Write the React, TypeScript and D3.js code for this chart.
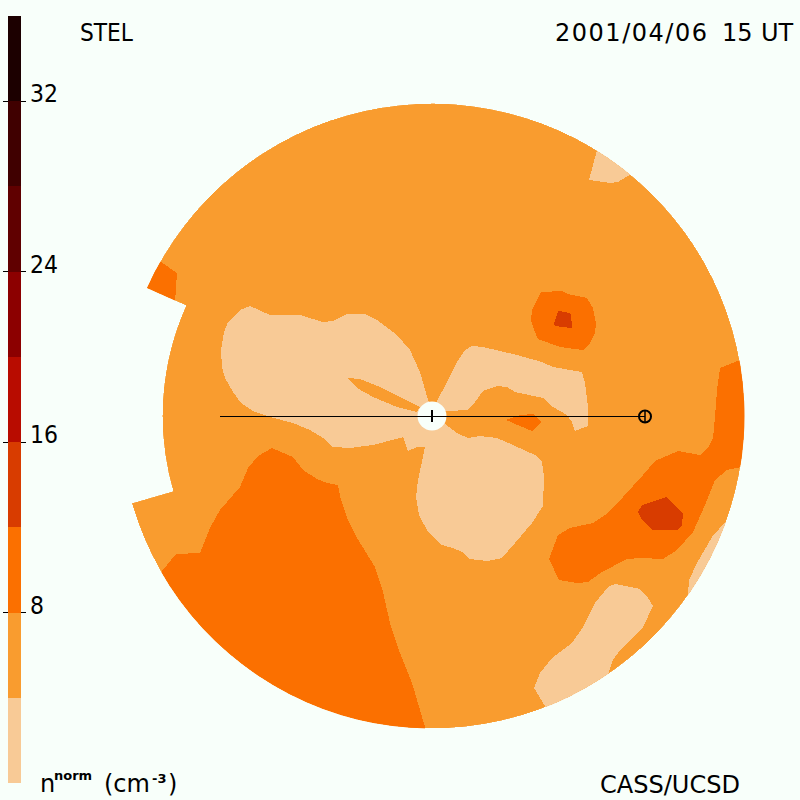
import React from 'react';
import * as d3 from 'd3';

type Pt = [number, number];

// sky plane coordinates in solar radii, sun at the origin, +x toward Earth, +y up
const earthDistance = 214;
const discRadius = 312.5;
const gapRadius = 269.5;
// position angles (deg, clockwise from top) of the sector with no data
const gapStart = 253.8;
const gapEnd = 294.2;
// the disc and sun sit one radius right of the contour origin in the picture
const discCentre = 1;

// density bands (cm^-3)
const bandEdges = [0, 4, 8, 12, 16, 20, 24, 28, 32, 36];
const bandColors = ['#f8ca96', '#f99c2f', '#fb7000', '#d83c00', '#b80c00', '#8c0000', '#600000', '#400000', '#1c0000'];
const barTicks = [8, 16, 24, 32];

// outlines of the density contours, each with a density that falls in its band
const leftLobe: Pt[] = [[-181,110],[-161,101],[-131,101],[-108,94],[-98,95],[-84,102],[-66,102],[-54,96],[-34,81],[-21,66],[-11,44],[-3,16],[14,-8],[26,-17],[37,-22],[49,-20],[66,-22],[82,-29],[104,-39],[111,-46],[113,-61],[112,-90],[101,-107],[84,-127],[71,-142],[56,-145],[39,-143],[31,-136],[22,-132],[11,-129],[-3,-116],[-12,-99],[-15,-81],[-13,-64],[-8,-41],[-6,-31],[-14,-31],[-23,-35],[-28,-21],[-31,-22],[-58,-29],[-81,-32],[-98,-31],[-108,-22],[-121,-14],[-138,-7],[-161,-1],[-178,5],[-190,13],[-198,24],[-206,38],[-209,49],[-210,66],[-207,84],[-203,94],[-191,106]];
const upperRightLobe: Pt[] = [[6,15],[16,34],[26,54],[34,66],[41,70],[52,69],[86,61],[111,54],[122,49],[151,44],[154,33],[157,9],[157,-10],[144,-15],[141,-6],[136,1],[122,9],[112,18],[84,24],[76,29],[66,30],[52,25],[44,14],[37,6],[16,5],[0,0]];
const sliver: Pt[] = [[-83,38],[-71,37],[-51,29],[-31,19],[-11,9],[-14,4],[-34,9],[-58,19],[-74,28]];
const nearEarthSpot: Pt[] = [[75,-4],[89,1],[102,2],[110,-6],[101,-15],[89,-10]];
const topPatch: Pt[] = [[166,266],[158,236],[179,233],[187,234],[200,242],[189,266]];
const edgePatch: Pt[] = [[-270,154],[-254,143],[-256,113],[-291,126],[-281,154]];
const northBlob: Pt[] = [[110,124],[131,125],[137,122],[156,118],[162,108],[165,93],[164,83],[159,73],[152,66],[129,69],[107,77],[103,86],[100,96],[101,106],[106,116]];
const northBlobCore: Pt[] = [[127,105],[134,104],[140,102],[141,89],[140,88],[124,90],[123,93],[126,101]];
const rightBand: Pt[] = [[309,56],[289,48],[286,26],[284,-1],[282,-22],[277,-32],[269,-39],[247,-35],[224,-45],[212,-59],[192,-81],[177,-97],[162,-107],[139,-112],[127,-119],[118,-143],[128,-164],[146,-167],[157,-166],[171,-156],[196,-143],[209,-142],[232,-143],[246,-134],[262,-116],[274,-89],[284,-64],[296,-54],[310,-51],[329,-51],[329,56]];
const rightBandCore: Pt[] = [[236,-81],[252,-98],[251,-109],[246,-114],[222,-114],[211,-104],[207,-96],[211,-89]];
const rightEdgeLow: Pt[] = [[296,-104],[281,-121],[266,-147],[258,-164],[257,-179],[289,-184],[314,-114]];
const bottomLow: Pt[] = [[184,-168],[209,-173],[217,-182],[222,-190],[212,-211],[189,-234],[182,-244],[177,-258],[184,-274],[129,-314],[114,-290],[103,-272],[109,-257],[121,-242],[141,-227],[152,-211],[164,-187],[177,-171]];
const lowerLeftBand: Pt[] = [[-269,-155],[-255,-138],[-231,-137],[-221,-112],[-211,-94],[-191,-71],[-183,-52],[-173,-40],[-159,-32],[-138,-41],[-128,-54],[-114,-63],[-104,-67],[-93,-69],[-90,-84],[-83,-104],[-74,-122],[-56,-151],[-48,-176],[-41,-207],[-31,-237],[-19,-267],[-6,-311],[-11,-354],[-151,-304],[-261,-224],[-281,-184]];

const contourOutlines = [leftLobe, upperRightLobe, sliver, nearEarthSpot, topPatch, edgePatch, northBlob, northBlobCore, rightBand, rightBandCore, rightEdgeLow, bottomLow, lowerLeftBand];
const contourValues = [2, 2, 6, 10, 2, 10, 10, 14, 10, 14, 2, 2, 10];

const background = '#f8fffa';
const fontFamily = '"DejaVu Sans", sans-serif';

const x = d3.scaleLinear().domain([-320, 320]).range([431 - 320, 431 + 320]);
const y = d3.scaleLinear().domain([-320, 320]).range([416 + 320, 416 - 320]);
const r = d3.scaleLinear().domain([0, 320]).range([0, 320]);
const barY = d3.scaleLinear().domain([0, 36]).range([783, 16]);
const bandColor = d3.scaleThreshold<number, string>().domain(bandEdges.slice(1, -1)).range(bandColors);

const outline = d3.line<Pt>().x((d) => x(d[0])).y((d) => y(d[1])).curve(d3.curveLinearClosed);

// position angle to canvas angle
const canvasAngle = (pa: number) => ((pa - 90) * Math.PI) / 180;

const discOutline = d3.path();
discOutline.arc(x(discCentre), y(0), r(discRadius), canvasAngle(gapEnd), canvasAngle(gapStart));
discOutline.arc(x(discCentre), y(0), r(gapRadius), canvasAngle(gapStart), canvasAngle(gapEnd));
discOutline.closePath();
const discPath = discOutline.toString();

const App: React.FC = () => {
  const bands = d3.pairs(bandEdges);
  return (
    <svg
      width={800}
      height={800}
      viewBox="0 0 800 800"
      style={{ position: 'absolute', top: 0, left: 0, background }}
      fontFamily={fontFamily}
    >
      <defs>
        <clipPath id="disc">
          <path d={discPath} />
        </clipPath>
      </defs>

      {/* colour bar, the ticks stick out on both sides */}
      {barTicks.map((t) => (
        <g key={t}>
          <line x1={3} x2={26} y1={Math.floor(barY(t)) + 0.5} y2={Math.floor(barY(t)) + 0.5} stroke="#000" />
          <text x={30} y={barY(t) + 1} fontSize={24} textLength={t < 10 ? 14 : 28} lengthAdjust="spacingAndGlyphs">
            {t}
          </text>
        </g>
      ))}
      {bands.map(([lo, hi]) => (
        <rect
          key={lo}
          x={8}
          width={13}
          y={barY(hi)}
          height={barY(lo) - barY(hi)}
          fill={bandColor(lo)}
          shapeRendering="crispEdges"
        />
      ))}

      {/* density map */}
      <g clipPath="url(#disc)" shapeRendering="crispEdges">
        <path d={discPath} fill={bandColor(6)} />
        {contourOutlines.map((pts, i) => (
          <path key={i} d={outline(pts)!} fill={bandColor(contourValues[i])} />
        ))}
      </g>

      {/* sun and earth */}
      <circle cx={x(discCentre)} cy={y(0)} r={r(14.5)} fill={background} />
      <line x1={x(-211)} x2={x(earthDistance)} y1={y(0) + 0.5} y2={y(0) + 0.5} stroke="#000" />
      <line x1={x(discCentre)} x2={x(discCentre)} y1={y(6)} y2={y(-6)} stroke="#000" strokeWidth={2} />
      <g fill="none" stroke="#000">
        <circle cx={x(earthDistance)} cy={y(0) + 0.5} r={r(6)} strokeWidth={2} />
        <line x1={x(earthDistance)} x2={x(earthDistance)} y1={y(6)} y2={y(-6)} strokeWidth={1.5} />
      </g>

      <text x={80} y={41} fontSize={24} textLength={53} lengthAdjust="spacingAndGlyphs">STEL</text>
      <text y={41} fontSize={24}>
        <tspan x={555} textLength={152}>2001/04/06</tspan>
        <tspan x={722}>15</tspan>
        <tspan x={761}>UT</tspan>
      </text>
      <text x={600} y={793} fontSize={24} textLength={140} lengthAdjust="spacingAndGlyphs">CASS/UCSD</text>

      <text x={40} y={792} fontSize={24}>n</text>
      <text x={54} y={780} fontSize={13} fontWeight="bold">norm</text>
      <text x={104} y={792} fontSize={24}>(cm</text>
      <text x={152} y={783} fontSize={13} fontWeight="bold">-3</text>
      <text x={168} y={792} fontSize={24}>)</text>
    </svg>
  );
};

export default App;
